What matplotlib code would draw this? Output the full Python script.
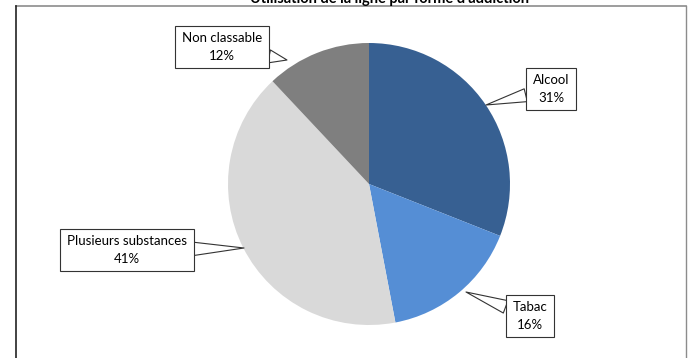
import matplotlib.pyplot as plt
from matplotlib.lines import Line2D

# data
labels = ["Alcool", "Tabac", "Plusieurs substances", "Non classable"]
values = [31, 16, 41, 12]
colors = ["#376092", "#558ED5", "#D9D9D9", "#7F7F7F"]
title = "Utilisation de la ligne par forme d'addiction"

# callout layout (pixel coords, y from top)
box_pos = [(551, 89), (530, 316), (127, 250), (222, 47)]
tip_pos = [(486, 105), (466, 292), (244, 248), (287, 60)]

W, H = 699, 358
fig = plt.figure(figsize=(W / 100, H / 100), dpi=100)
ax = fig.add_axes([0, 0, 1, 1])

# frame of the chart area
ax.add_line(Line2D([16, 686], [H - 6, H - 6], color="#8c8c8c", lw=1.2))
ax.add_line(Line2D([16, 16], [H - 6, -5], color="#222222", lw=1.2))
ax.add_line(Line2D([686, 686], [H - 6, -5], color="#8c8c8c", lw=1.0))

ax.text(389, H - 3, title, ha="center", va="baseline", fontsize=10.5,
        fontweight="bold", family="Lato")

ax.pie(values, colors=colors, startangle=90, counterclock=False,
       center=(369, H - 184), radius=141, frame=True)
ax.set_xlim(0, W)
ax.set_ylim(0, H)
ax.set_aspect("equal")
ax.axis("off")

for lab, v, (bx, by), (tx, ty) in zip(labels, values, box_pos, tip_pos):
    ax.annotate(f"{lab}\n{v}%", xy=(tx, H - ty), xytext=(bx, H - by),
                ha="center", va="center", fontsize=9.5, family="Lato",
                linespacing=1.55,
                bbox=dict(boxstyle="square,pad=0.5", fc="white", ec="#333333", lw=0.8),
                arrowprops=dict(arrowstyle="wedge,tail_width=1.0,shrink_factor=0.5",
                                fc="white", ec="#333333", lw=0.8,
                                shrinkA=0, shrinkB=0))

fig.savefig("out.png", dpi=100)
